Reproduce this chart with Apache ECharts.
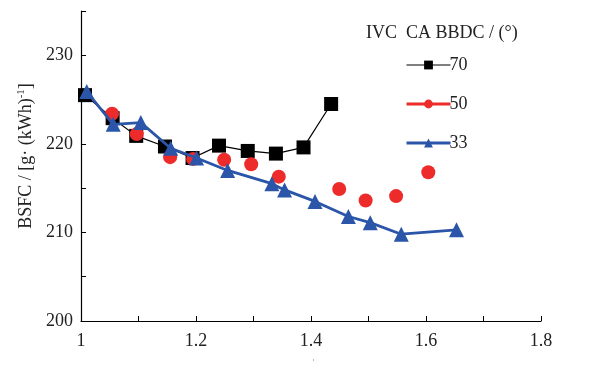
<!DOCTYPE html>
<html><head><meta charset="utf-8">
<script src="https://cdn.jsdelivr.net/npm/echarts@6/dist/echarts.min.js"></script>
<style>html,body{margin:0;padding:0;background:#fff}#c{width:613px;height:371px}</style>
</head><body><div id="c"></div>
<script>
var x70 = [1.007, 1.055, 1.096, 1.146, 1.194, 1.240, 1.290, 1.339, 1.387, 1.435];
var y70 = [225.5, 222.9, 220.9, 219.7, 218.4, 219.8, 219.2, 218.9, 219.6, 224.5];
var x50 = [1.054, 1.097, 1.155, 1.195, 1.249, 1.296, 1.344, 1.449, 1.495, 1.548, 1.604];
var y50 = [223.4, 221.1, 218.5, 218.3, 218.2, 217.7, 216.3, 214.9, 213.6, 214.1, 216.8];
var x33 = [1.010, 1.056, 1.104, 1.156, 1.201, 1.255, 1.332, 1.354, 1.407, 1.465, 1.503, 1.557, 1.653];
var y33 = [225.9, 222.2, 222.4, 219.5, 218.4, 217.0, 215.5, 214.8, 213.5, 211.8, 211.1, 209.8, 210.3];
var seriesNames = ['70', '50', '33'];
var xTickLabels = ['1', '1.2', '1.4', '1.6', '1.8'];
var yTickLabels = ['200', '210', '220', '230'];

function pairs(xs, ys){ return xs.map(function(v,i){return [v, ys[i]];}); }
var FONT = 'Liberation Serif';
var RED = '#ee2b2b', BLUE = '#2a55a8';
var chart = echarts.init(document.getElementById('c'));
chart.setOption({
  animation: false,
  textStyle: {fontFamily: FONT},
  title: {text: 'IVC  CA BBDC / (°)', left: 361, top: 19,
    textStyle: {fontFamily: FONT, fontSize: 18, fontWeight: 'normal', color: '#222'}},
  legend: {
    orient: 'vertical', left: 400, top: 51, itemGap: 21, itemWidth: 44, itemHeight: 11,
    textStyle: {fontFamily: FONT, fontSize: 18, color: '#222', padding: [0,0,0,-6]},
    data: [
      {name: '70', lineStyle: {width: 1.2, color: '#000'}},
      {name: '50', lineStyle: {width: 3, color: RED, opacity: 1}},
      {name: '33', lineStyle: {width: 3, color: BLUE}}
    ]
  },
  graphic: [{type: 'text', left: 312, top: 358, style: {text: 'ʾ', fontSize: 9, fill: '#444', fontFamily: FONT}}],
  grid: {left: 81, right: 72, top: 11, bottom: 50},
  xAxis: {
    type: 'value', min: 1, max: 1.8, interval: 0.1,
    axisLine: {lineStyle: {color: '#000', width: 1.2}},
    axisTick: {inside: true, length: 5, lineStyle: {color: '#000'}},
    splitLine: {show: false},
    axisLabel: {fontFamily: FONT, fontSize: 18, color: '#222', margin: 11,
      formatter: function(v){ var s = String(Math.round(v*10)/10); return xTickLabels.indexOf(s) >= 0 ? s : ''; }}
  },
  yAxis: {
    type: 'value', min: 200, max: 235, interval: 5,
    name: 'BSFC / [g· (kWh){sup|-1}]', nameLocation: 'middle', nameGap: 41,
    nameTextStyle: {fontFamily: FONT, fontSize: 18, color: '#222', padding: [0,0,0,20],
      rich: {sup: {fontSize: 11, verticalAlign: 'top', padding: [0,0,9,0], fontFamily: FONT, color: '#222'}}},
    axisLine: {show: true, lineStyle: {color: '#000', width: 1.2}},
    axisTick: {inside: true, length: 5, lineStyle: {color: '#000'}},
    splitLine: {show: false},
    axisLabel: {fontFamily: FONT, fontSize: 18, color: '#222', margin: 8,
      formatter: function(v){ var s = String(v); return yTickLabels.indexOf(s) >= 0 ? s : ''; }}
  },
  series: [
    {name: seriesNames[0], type: 'line', data: pairs(x70, y70), symbol: 'rect', symbolSize: 14,
      itemStyle: {color: '#000'}, lineStyle: {color: '#000', width: 1.2}, z: 2},
    {name: seriesNames[1], type: 'line', data: pairs(x50, y50), symbol: 'circle', symbolSize: 14,
      itemStyle: {color: RED}, lineStyle: {width: 0, opacity: 0}, z: 3},
    {name: seriesNames[2], type: 'line', data: pairs(x33, y33), symbol: 'triangle', symbolSize: 15,
      itemStyle: {color: BLUE}, lineStyle: {color: BLUE, width: 2.8}, z: 4}
  ]
});
</script></body></html>
